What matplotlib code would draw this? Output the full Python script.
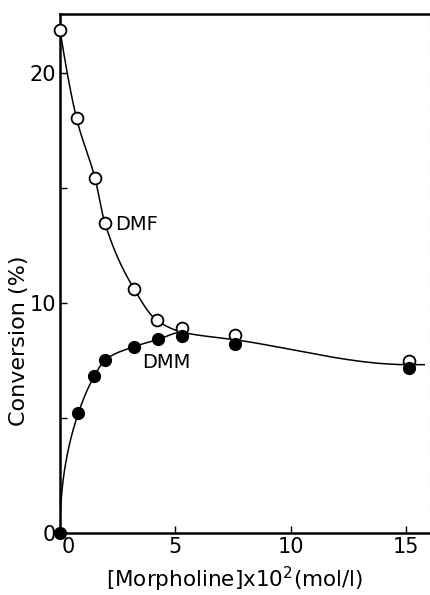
import numpy as np
import matplotlib
matplotlib.use('Agg')
import matplotlib.pyplot as plt
import matplotlib.transforms as mtransforms

# ---------------- data ----------------
dmf_x = [0.0, 0.72, 1.52, 1.95, 3.22, 4.19, 5.30, 7.58, 15.15]
dmf_y = [21.87, 18.03, 15.42, 13.47, 10.60, 9.26, 8.90, 8.61, 7.48]
dmm_x = [0.0, 0.79, 1.49, 1.95, 3.20, 4.26, 5.30, 7.60, 15.12]
dmm_y = [0.0, 5.20, 6.83, 7.52, 8.10, 8.42, 8.57, 8.20, 7.16]
merge_index = 6          # from this point on both series share one trend line
x_ticks = [0, 5, 10, 15]
y_ticks = [0, 10, 20]
y_minor = [5, 15]
xlabel = "[Morpholine]x10$^{2}$(mol/l)"
ylabel = "Conversion (%)"


def pchip(x, y, xn):
    x = np.asarray(x, float); y = np.asarray(y, float)
    h = np.diff(x); d = np.diff(y) / h
    n = len(x); m = np.zeros(n)
    for k in range(1, n - 1):
        if d[k - 1] * d[k] > 0:
            w1 = 2 * h[k] + h[k - 1]; w2 = h[k] + 2 * h[k - 1]
            m[k] = (w1 + w2) / (w1 / d[k - 1] + w2 / d[k])
    def endp(h0, h1, d0, d1):
        v = ((2 * h0 + h1) * d0 - h0 * d1) / (h0 + h1)
        if np.sign(v) != np.sign(d0):
            v = 0.0
        elif np.sign(d0) != np.sign(d1) and abs(v) > abs(3 * d0):
            v = 3 * d0
        return v
    m[0] = endp(h[0], h[1], d[0], d[1])
    m[-1] = endp(h[-1], h[-2], d[-1], d[-2])
    idx = np.clip(np.searchsorted(x, xn) - 1, 0, n - 2)
    t = (xn - x[idx]) / h[idx]
    h00 = 2 * t**3 - 3 * t**2 + 1; h10 = t**3 - 2 * t**2 + t
    h01 = -2 * t**3 + 3 * t**2; h11 = t**3 - t**2
    return h00 * y[idx] + h10 * h[idx] * m[idx] + h01 * y[idx + 1] + h11 * h[idx] * m[idx + 1]


# common tail: mean of both series beyond the merge point, extended to the line's end
tail_x = [(a + b) / 2 for a, b in zip(dmf_x[merge_index:], dmm_x[merge_index:])]
tail_y = [(a + b) / 2 for a, b in zip(dmf_y[merge_index:], dmm_y[merge_index:])]
x_end = 15.8
slope = (tail_y[-1] - tail_y[-2]) / (tail_x[-1] - tail_x[-2])
tail_x.append(x_end); tail_y.append(tail_y[-1] + slope * (x_end - tail_x[-1]))

kx_f = dmf_x[:merge_index] + tail_x; ky_f = dmf_y[:merge_index] + tail_y
kx_m = dmm_x[:merge_index] + tail_x; ky_m = dmm_y[:merge_index] + tail_y

xf = np.linspace(0, x_end, 800)
yf = pchip(kx_f, ky_f, xf)
xm = np.linspace(0, tail_x[0], 600)
ym = pchip(np.sqrt(kx_m), ky_m, np.sqrt(xm))

# ---------------- figure ----------------
plt.rcParams['font.family'] = ['DejaVu Sans']
fig = plt.figure(figsize=(4.31, 5.95), dpi=100)
ax = fig.add_axes([60 / 431, 1 - 533 / 595, (430 - 60) / 431, (533 - 14) / 595])

ax.plot(xf, yf, color='black', lw=1.1, zorder=2)
ax.plot(xm, ym, color='black', lw=1.1, zorder=2)
ax.plot(dmf_x, dmf_y, 'o', ms=8.5, mfc='white', mec='black', mew=1.3, zorder=3, clip_on=False)
ax.plot(dmm_x, dmm_y, 'o', ms=8.5, mfc='black', mec='black', mew=1.0, zorder=4, clip_on=False)

ax.text(2.38, 13.4, 'DMF', fontsize=14, va='center', ha='left')
ax.text(3.55, 7.4, 'DMM', fontsize=14, va='center', ha='left')

ax.set_xlim(0, 16.05)
ax.set_ylim(0, 22.57)
ax.set_xticks(x_ticks)
ax.set_xticklabels([str(v) for v in x_ticks])
ax.set_yticks(y_ticks)
ax.set_yticks(y_minor, minor=True)
ax.tick_params(axis='both', which='both', direction='in', length=5, width=1.0,
               labelsize=15, top=False, right=False)
ax.tick_params(axis='x', pad=3)
ax.tick_params(axis='y', pad=3)
# the "0" of the x axis sits a little right of the corner in the reference
first = ax.get_xticklabels()[0]
first.set_transform(first.get_transform() +
                    mtransforms.ScaledTranslation(8 / 100, 0, fig.dpi_scale_trans))

for s in ['left', 'bottom', 'top']:
    ax.spines[s].set_linewidth(1.8)
ax.spines['right'].set_linewidth(0.8)
ax.spines['right'].set_color('#bbbbbb')
ax.spines['right'].set_linestyle((0, (6, 4)))

fig.text(19 / 431, 1 - 341 / 595, ylabel, fontsize=16, rotation=90,
         ha='center', va='center')
fig.text(235 / 431, 1 - 579 / 595, xlabel, fontsize=15.5, ha='center', va='center')

fig.savefig('out.png', dpi=100)
